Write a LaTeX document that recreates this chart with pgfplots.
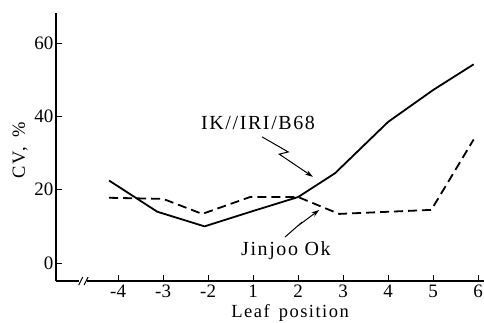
\documentclass[border=0pt]{standalone}
\usepackage{fontspec}
\setmainfont{Liberation Serif}
\newfontfamily\spaced[LetterSpace=8]{Liberation Serif}
\usepackage{pgfplots}
\pgfplotsset{compat=1.18}
\usetikzlibrary{arrows.meta}
\begin{document}
\begin{tikzpicture}
\useasboundingbox (-56pt,-41pt) rectangle (428pt,281pt);
\begin{axis}[
 scale only axis, width=428pt, height=268pt,
 xmin=-1.38, xmax=8.13, ymin=-4.9, ymax=68.2,
 axis lines=left, axis line style={-, line width=1.2pt},
 xtick={0,...,8}, xticklabels={-4,-3,-2,1,2,3,4,5,6},
 ytick={0,20,40,60}, yticklabels={0,20,40,60},
 tick align=inside, major tick length=6pt, tick style={line width=1pt, black},
 ticklabel style={font=\fontsize{19}{21}\selectfont},
 xticklabel style={yshift=-3pt, inner sep=1pt},
 yticklabel style={xshift=1pt},
 ylabel={CV,\hspace{10pt}\%}, xlabel={Leaf\hspace{3pt} position},
 label style={font=\spaced\fontsize{18.5}{20}\selectfont, inner sep=0pt},
 ylabel style={at={(axis description cs:-0.084,0.489)}, anchor=center},
 xlabel style={at={(axis description cs:0.547,-0.121)}, anchor=center},
 clip=false,
]
\addplot[black, line width=1.8pt, line join=round] coordinates {
 (-0.2,22.5) (0.87,14) (1.92,10) (3,14.2) (4,18) (4.82,24.5) (6,38.5) (7,47.2) (7.9,54.2)};
\addplot[black, line width=1.8pt, dash pattern=on 9pt off 5pt] coordinates {
 (-0.2,17.8) (1.0,17.5) (1.87,13.4) (2.93,18) (4,18) (4.91,13.4) (6.96,14.5) (7.9,33.7)};
\node[font=\spaced\fontsize{20}{22}\selectfont] at (axis cs:3.11,38.2) {IK//IRI/B68};
\draw[line width=1pt, -{Stealth[length=8pt,width=5pt]}] (axis cs:3.2,34.4) -- (axis cs:3.78,30.3) -- (axis cs:3.58,29.7) -- (axis cs:4.33,23.5);
\node[font=\spaced\fontsize{20}{22}\selectfont] at (axis cs:3.73,3.5) {Jinjoo Ok};
\draw[line width=1pt, -{Stealth[length=8pt,width=5pt]}] (axis cs:3.71,7.1) -- (axis cs:4.09,11.2) -- (axis cs:3.98,10.0) -- (axis cs:4.47,14.5);
\fill[white] (axis cs:-0.867,-5.8) rectangle (axis cs:-0.689,-4.0);
\draw[line width=1pt] (axis cs:-0.874,-6.0) -- (axis cs:-0.786,-3.8);
\draw[line width=1pt] (axis cs:-0.754,-6.0) -- (axis cs:-0.666,-3.8);
\end{axis}
\end{tikzpicture}
\end{document}
